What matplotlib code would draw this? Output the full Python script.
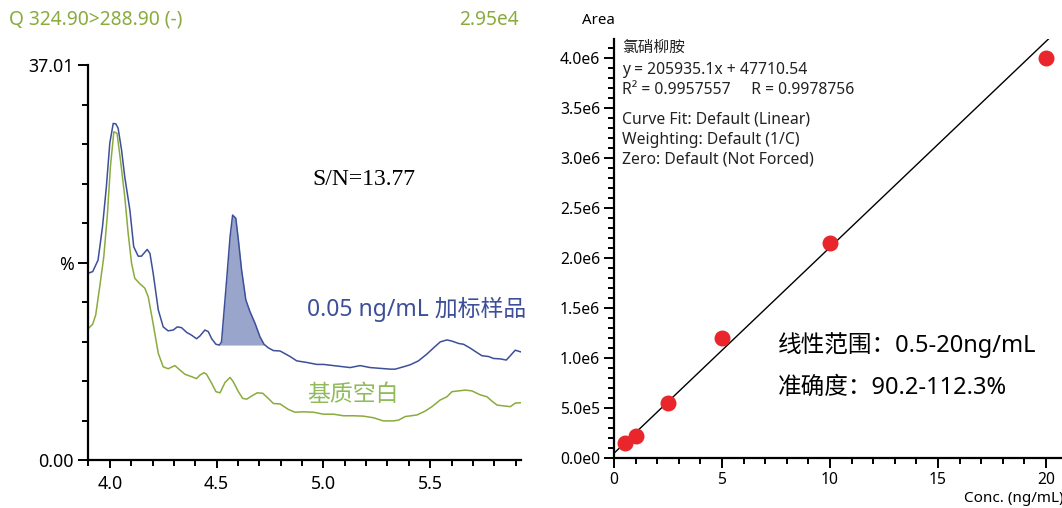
import matplotlib
matplotlib.use('Agg')
import matplotlib.pyplot as plt
from matplotlib.ticker import MultipleLocator, FixedLocator

plt.rcParams['font.family'] = ['Noto Sans', 'Noto Sans CJK SC', 'DejaVu Sans']

# chromatogram, blue = 0.05 ng/mL spiked sample, green = matrix blank (% of full scale)
rt_spk = [3.90, 3.92, 3.945, 3.966, 3.984, 4.0, 4.016, 4.028, 4.039, 4.055, 4.07, 4.094,
          4.112, 4.133, 4.148, 4.175, 4.188, 4.203, 4.227, 4.25, 4.273, 4.297, 4.316, 4.336,
          4.36, 4.383, 4.406, 4.422, 4.445, 4.461, 4.477, 4.497, 4.513, 4.523, 4.534, 4.547,
          4.563, 4.575, 4.59, 4.602, 4.617, 4.637, 4.656, 4.68, 4.703, 4.722, 4.742, 4.766,
          4.797, 4.844, 4.875, 4.922, 4.969, 5.0, 5.047, 5.094, 5.125, 5.172, 5.219, 5.266,
          5.313, 5.336, 5.375, 5.406, 5.445, 5.484, 5.516, 5.547, 5.578, 5.602, 5.633, 5.656,
          5.688, 5.719, 5.742, 5.773, 5.797, 5.828, 5.856, 5.875, 5.898, 5.922]
int_spk = [47.3, 47.7, 50.6, 59.1, 69.2, 80.2, 85.2, 85.1, 84.0, 78.5, 71.7, 63.3,
           54.0, 51.6, 51.6, 53.3, 52.3, 47.3, 38.0, 33.7, 32.7, 32.9, 33.7, 33.5,
           32.3, 31.6, 30.7, 31.4, 32.9, 32.5, 30.7, 29.3, 29.1, 29.9, 37.1, 45.6,
           56.5, 62.0, 61.2, 55.7, 48.1, 40.5, 37.6, 34.6, 31.2, 29.3, 28.4, 27.7,
           27.6, 26.2, 25.1, 24.7, 24.2, 24.2, 23.9, 23.6, 23.4, 23.9, 23.4, 23.2,
           23.0, 23.0, 23.6, 24.1, 25.1, 26.8, 28.4, 29.9, 30.4, 30.1, 29.5, 29.3,
           28.3, 27.2, 26.4, 26.2, 25.7, 25.6, 25.3, 26.4, 27.8, 27.4]
rt_blk = [3.90, 3.92, 3.934, 3.953, 3.972, 3.988, 4.003, 4.019, 4.034, 4.05, 4.07, 4.086,
          4.102, 4.117, 4.141, 4.164, 4.18, 4.2, 4.227, 4.25, 4.273, 4.305, 4.328, 4.352,
          4.383, 4.406, 4.422, 4.441, 4.453, 4.477, 4.497, 4.516, 4.539, 4.563, 4.578, 4.602,
          4.622, 4.641, 4.664, 4.69, 4.716, 4.742, 4.766, 4.797, 4.836, 4.867, 4.906, 4.953,
          5.0, 5.047, 5.094, 5.141, 5.188, 5.234, 5.281, 5.328, 5.352, 5.383, 5.438, 5.477,
          5.508, 5.547, 5.578, 5.602, 5.633, 5.664, 5.695, 5.734, 5.766, 5.789, 5.813, 5.844,
          5.875, 5.898, 5.922]
int_blk = [33.3, 34.4, 36.7, 43.9, 51.5, 61.6, 74.3, 83.1, 82.7, 75.9, 66.7, 57.4,
           49.8, 46.0, 44.6, 43.5, 41.3, 35.4, 27.0, 23.6, 23.1, 23.9, 22.8, 21.7,
           21.1, 20.6, 21.5, 22.1, 21.7, 19.4, 17.3, 17.0, 19.6, 20.9, 19.8, 17.3,
           15.6, 15.4, 16.2, 17.0, 16.9, 15.6, 14.3, 14.2, 12.8, 12.1, 12.2, 12.1,
           11.6, 11.6, 11.2, 11.2, 11.1, 10.7, 9.9, 9.9, 10.1, 11.0, 11.4, 12.4,
           13.5, 15.2, 16.0, 17.3, 17.5, 17.7, 17.5, 16.5, 16.0, 14.9, 13.9, 13.7,
           13.5, 14.4, 14.5]
peak_start, peak_end, peak_base = 4.513, 4.722, 29.1

# calibration curve
conc = [0.5, 1.0, 2.5, 5.0, 10.0, 20.0]
area = [1.47e5, 2.23e5, 5.53e5, 1.197e6, 2.15e6, 4.0e6]
slope, icpt = 205935.1, 47710.54

blue = '#3d4f99'
green = '#8aab3e'
W, H = 1062, 508
fig = plt.figure(figsize=(W / 100, H / 100), dpi=100)

# ---------- left: chromatogram ----------
ax1 = fig.add_axes([88 / W, 1 - 460 / H, (521 - 88) / W, (460 - 65) / H])
ax1.plot(rt_spk, int_spk, color=blue, lw=1.1)
ax1.plot(rt_blk, int_blk, color=green, lw=1.1)
px = [x for x in rt_spk if peak_start <= x <= peak_end]
py = [y for x, y in zip(rt_spk, int_spk) if peak_start <= x <= peak_end]
ax1.fill_between(px, peak_base, py, color='#9aa5cb', lw=0)
ax1.set_xlim(3.898, 5.925)
ax1.set_ylim(0, 100)
for s in ['top', 'right']:
    ax1.spines[s].set_visible(False)
for s in ['left', 'bottom']:
    ax1.spines[s].set_linewidth(1.6)
ax1.yaxis.set_major_locator(FixedLocator([0, 50, 100]))
ax1.set_yticklabels(['0.00', '%', '37.01'])
ax1.yaxis.set_minor_locator(MultipleLocator(10))
ax1.xaxis.set_major_locator(MultipleLocator(0.5))
ax1.xaxis.set_minor_locator(MultipleLocator(0.1))
ax1.xaxis.set_major_formatter(matplotlib.ticker.FormatStrFormatter('%.1f'))
ax1.tick_params(which='major', length=7, width=1.4, labelsize=12.8, pad=3)
ax1.tick_params(axis='x', which='major', length=6, pad=5)
ax1.tick_params(which='minor', length=4, width=1.4)
ax1.text(4.947, 70.9, 'S/N=13.77', family='Liberation Serif', fontsize=17, va='center')
ax1.text(4.923, 38.0, '0.05 ng/mL 加标样品', color=blue, fontsize=16.5, va='center')
ax1.text(4.923, 16.5, '基质空白', color='#8fbb5a', fontsize=16.5, va='center')

fig.text(9 / W, 1 - 20 / H, 'Q 324.90>288.90 (-)', color=green, fontsize=13.8, va='center')
fig.text(519 / W, 1 - 20 / H, '2.95e4', color=green, fontsize=13.8, va='center', ha='right')

# ---------- right: calibration ----------
ax2 = fig.add_axes([614 / W, 1 - 458 / H, (W - 614) / W, (458 - 39) / H])
xmax = 20.74
ymax = 4.19e6
ax2.plot([0, (ymax - icpt) / slope], [icpt, ymax], color='black', lw=1.0, zorder=2)
ax2.scatter(conc, area, s=110, color='#e8262b', zorder=3, clip_on=False)
ax2.set_xlim(0, xmax)
ax2.set_ylim(0, ymax)
for s in ['top', 'right']:
    ax2.spines[s].set_visible(False)
for s in ['left', 'bottom']:
    ax2.spines[s].set_linewidth(1.6)
ax2.xaxis.set_major_locator(MultipleLocator(5))
ax2.xaxis.set_minor_locator(MultipleLocator(1))
ax2.yaxis.set_major_locator(MultipleLocator(5e5))
ax2.yaxis.set_minor_locator(MultipleLocator(1e5))
ax2.yaxis.set_major_formatter(matplotlib.ticker.FuncFormatter(
    lambda v, p: '0.0e0' if v == 0 else '%.1fe%d' % (v / 10 ** int(len(str(int(v))) - 1), len(str(int(v))) - 1)))
ax2.tick_params(which='major', length=7, width=1.4, labelsize=11.3, pad=3)
ax2.tick_params(which='minor', length=4, width=1.4)

info = [('氯硝柳胺', 4.10e6), ('y = 205935.1x + 47710.54', 3.88e6),
        ('R² = 0.9957557     R = 0.9978756', 3.68e6), ('Curve Fit: Default (Linear)', 3.39e6),
        ('Weighting: Default (1/C)', 3.18e6), ('Zero: Default (Not Forced)', 2.98e6)]
for t, yy in info:
    ax2.text(0.37, yy, t, fontsize=11.3, va='center', color='#222222')
ax2.text(7.6, 1.13e6, '线性范围：0.5-20ng/mL', fontsize=17, va='center')
ax2.text(7.6, 0.70e6, '准确度：90.2-112.3%', fontsize=17, va='center')

fig.text(598 / W, 1 - 20 / H, 'Area', fontsize=10.8, va='center', ha='center')
fig.text(964 / W, 1 - 498 / H, 'Conc. (ng/mL)', fontsize=11, va='center')

fig.savefig('out.png', dpi=100)
